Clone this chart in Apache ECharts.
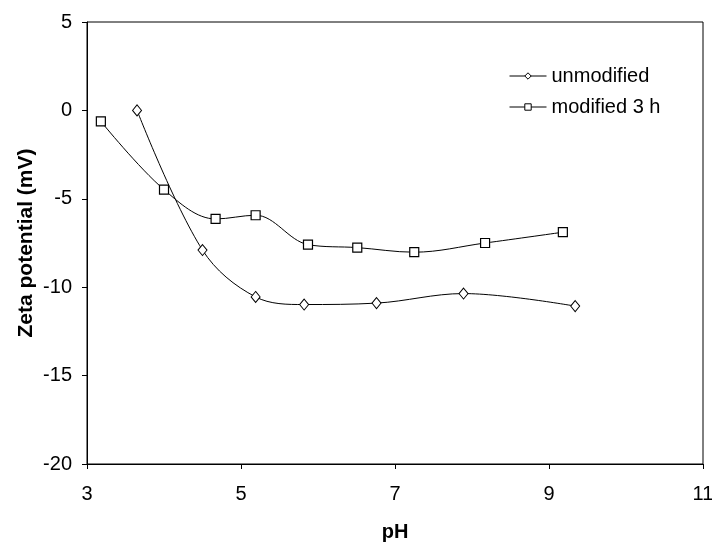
<!DOCTYPE html>
<html><head><meta charset="utf-8">
<script src="https://cdn.jsdelivr.net/npm/echarts@6/dist/echarts.min.js"></script>
<style>html,body{margin:0;padding:0;background:#fff}#c{width:712px;height:543px}</style>
</head><body><div id="c"></div>
<script>
const unmodPH = [3.65, 4.50, 5.19, 5.82, 6.76, 7.89, 9.34];
const unmodZeta = [0.0, -7.9, -10.55, -10.98, -10.9, -10.36, -11.07];
const modPH = [3.18, 4.00, 4.67, 5.19, 5.87, 6.51, 7.25, 8.17, 9.18];
const modZeta = [-0.62, -4.48, -6.14, -5.93, -7.59, -7.76, -8.02, -7.5, -6.89];
const seriesNames = ['unmodified', 'modified 3 h'];
const xTicks = [3, 5, 7, 9, 11];
const yTicks = [-20, -15, -10, -5, 0, 5];

const font = 'Liberation Sans, Arial, sans-serif';
const chart = echarts.init(document.getElementById('c'));
const zip = (a, b) => a.map((v, i) => [v, b[i]]);
chart.setOption({
  animation: false,
  backgroundColor: '#fff',
  grid: { left: 87, right: 9, top: 22, bottom: 79, show: true, borderColor: '#000', borderWidth: 1, containLabel: false, outerBoundsMode: 'none' },
  legend: {
    orient: 'vertical', left: 504, top: 61, itemGap: 11,
    itemWidth: 37, itemHeight: 8,
    itemStyle: { color: '#fff', borderColor: '#000', borderWidth: 1 },
    lineStyle: { color: '#000', width: 1 },
    textStyle: { fontFamily: font, fontSize: 20, color: '#000' },
    data: seriesNames
  },
  xAxis: {
    type: 'value', min: xTicks[0], max: xTicks[xTicks.length - 1], interval: 2,
    name: 'pH', nameLocation: 'middle', nameGap: 58,
    nameTextStyle: { fontFamily: font, fontSize: 20, fontWeight: 'bold', color: '#000' },
    axisLine: { show: true, onZero: false, lineStyle: { color: '#000', width: 1 } },
    axisTick: { show: true, length: 5, lineStyle: { color: '#000' } },
    axisLabel: { fontFamily: font, fontSize: 20, color: '#000', margin: 20 },
    splitLine: { show: false }
  },
  yAxis: {
    type: 'value', min: yTicks[0], max: yTicks[yTicks.length - 1], interval: 5,
    name: 'Zeta potential (mV)', nameLocation: 'middle', nameGap: 50, nameMoveOverlap: false,
    nameTextStyle: { fontFamily: font, fontSize: 21, fontWeight: 'bold', color: '#000' },
    axisLine: { show: true, onZero: false, lineStyle: { color: '#000', width: 1 } },
    axisTick: { show: true, length: 5, lineStyle: { color: '#000' } },
    axisLabel: { fontFamily: font, fontSize: 20, color: '#000', margin: 15 },
    splitLine: { show: false }
  },
  series: [
    {
      name: seriesNames[0], type: 'line', data: zip(unmodPH, unmodZeta),
      smooth: 0.35, symbol: 'diamond', symbolSize: [9, 11],
      lineStyle: { color: '#000', width: 1 },
      itemStyle: { color: '#fff', borderColor: '#000', borderWidth: 1 }
    },
    {
      name: seriesNames[1], type: 'line', data: zip(modPH, modZeta),
      smooth: 0.35, symbol: 'rect', symbolSize: 9,
      lineStyle: { color: '#000', width: 1 },
      itemStyle: { color: '#fff', borderColor: '#000', borderWidth: 1.2 }
    }
  ]
});
</script></body></html>
